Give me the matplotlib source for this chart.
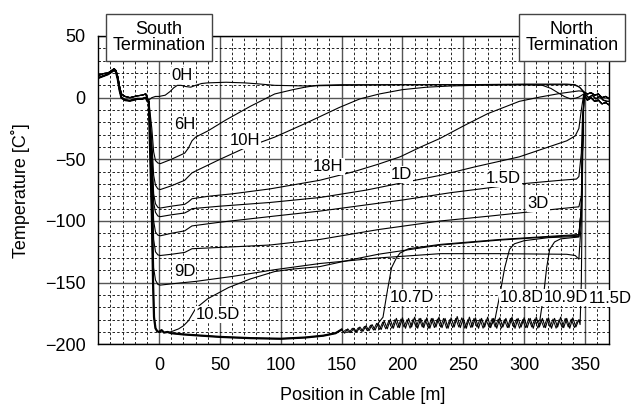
import numpy as np
import matplotlib
matplotlib.use('Agg')
import matplotlib.pyplot as plt
from matplotlib.patches import Rectangle
from matplotlib.ticker import MultipleLocator

plt.rcParams['font.family'] = ['Liberation Sans', 'DejaVu Sans']

# ---------------- data (position [m], temperature [C]) ----------------
LEFT_A = [(-50, 18), (-46, 19.5), (-42, 20), (-39, 22), (-37, 23.5), (-35.5, 22), (-34, 17),
          (-32.5, 9), (-31, 3), (-28, 1), (-24, 0), (-18, 1.5), (-14, 2), (-11, 3), (-9.5, -1)]
LEFT_B = [(-50, 16), (-46, 17.5), (-42, 19), (-39, 21), (-37, 22.5), (-35.5, 21), (-34, 15),
          (-32.5, 6), (-31, 0), (-28, -2), (-24, -2.5), (-18, -1), (-14, -1), (-11, 0), (-9.5, -3)]
RIGHT_A = [(350, 4), (352, 3), (355, 4), (358, 2), (361, 3), (364, 0), (367, 1), (370, -1)]
RIGHT_B = [(350, 1), (352, -2), (355, 0), (358, -3), (361, -2), (364, -5), (367, -4), (370, -6)]
RIGHT_C = [(350, 3), (353, 0), (356, 2), (359, -1), (362, 1), (365, -2), (368, -3), (370, -3)]

C_0H = [(-8.5, -2), (-6, 0), (-3, 1), (0, 1), (5, 2), (9, 5), (12, 8), (15, 10), (18, 10), (22, 9),
        (26, 8.5), (30, 10), (35, 11.5), (40, 12), (55, 12.5), (70, 12), (80, 11.3), (95, 10),
        (120, 9.5), (150, 10), (200, 10.5), (250, 10.5), (300, 11), (335, 11), (342, 10.5),
        (346, 8), (349, 4)]
C_6H = [(-8.5, -3), (-6, -25), (-4.5, -44), (-3, -51), (-1, -53), (1, -53.5), (10, -50), (21, -45),
        (24, -41), (27, -35), (30, -32), (40, -27), (55, -18), (75, -7), (95, 3), (110, 6.5),
        (120, 8.5), (130, 10), (150, 10.5), (200, 10.5), (250, 10.5), (300, 10.5), (315, 10),
        (322, 7.5), (327, 4.5), (333, 1), (338, -1), (342, -0.5), (345, 0.5), (349, 3)]
C_10H = [(-8.5, -3), (-6, -35), (-4.5, -63), (-3, -71), (-1, -74), (1, -74.5), (10, -71.5),
         (21, -67), (24, -64), (27, -61), (30, -59.5), (50, -50), (70, -41), (95, -32), (120, -21),
         (148, -8), (165, -1), (181, 3), (200, 6.5), (220, 8.5), (240, 9.5), (260, 10),
         (300, 10.5), (340, 10.5), (345, 9), (349, 5)]
C_18H = [(-8.5, -3), (-6, -45), (-4.5, -78), (-3, -86), (-1, -89), (1, -89.5), (10, -88),
         (21, -86.5), (24, -84.5), (27, -82), (40, -80), (60, -78), (91, -74), (132, -67),
         (160, -60), (180, -54), (198, -48), (215, -40), (231, -33), (250, -23), (270, -13),
         (296, -3), (313, 0.5), (330, 3.5), (345, 5.5), (349, 5)]
C_1D = [(-8.5, -3), (-6, -50), (-4.5, -85), (-3, -93), (-1, -96), (1, -96.5), (10, -95),
        (21, -93.5), (24, -92), (27, -90), (50, -88), (91, -85), (132, -81), (170, -75),
        (200, -69), (231, -63), (260, -56), (296, -48), (320, -40), (335, -35), (342, -31),
        (345, -25), (347, -10), (349, 3)]
C_15D = [(-8.5, -3), (-6, -58), (-4.5, -100), (-3, -109), (-1, -111.5), (1, -112), (10, -110),
         (21, -108), (24, -106), (27, -104), (50, -101), (95, -96), (132, -92), (200, -83),
         (240, -77), (296, -70), (330, -67), (343, -66), (345, -64), (347, -45), (348, -15),
         (350, 3)]
C_3D = [(-8.5, -3), (-6, -66), (-4.5, -115), (-3, -125), (-1, -127.5), (1, -128), (10, -127),
        (21, -125.5), (24, -124), (27, -122.5), (60, -121), (91, -119.5), (132, -115),
        (180, -107), (231, -100), (272, -96), (320, -91), (345, -88.5), (347, -80), (348, -40),
        (349, 0)]
C_9D = [(-8.5, -3), (-6, -78), (-4.5, -138), (-3, -148), (-1, -151.5), (1, -152), (10, -151),
        (30, -149), (60, -145), (95, -139.5), (132, -134.5), (180, -130), (231, -126.5),
        (280, -126.5), (335, -127), (342, -128), (345, -131), (347, -100), (348, -40), (349, 0)]
BOTTOM = [(-8.5, -3), (-6, -95), (-5, -150), (-4.2, -178), (-3, -187), (-1.5, -189.5), (0, -190),
          (2, -188.5), (4, -190.5), (7, -190), (10, -191), (20, -192), (35, -193), (50, -194),
          (75, -195), (100, -195.5), (120, -194.5), (135, -193), (145, -191), (150, -188)]
OSC_START = 150
OSC_STEP = 2.5
OSC_Y = [-188, -191, -187.5, -190.5, -187, -190, -186, -189.5, -185, -189, -184, -188.5, -183, -188,
         -181, -187.5, -180, -187, -179, -186.5, -178.5, -187, -179, -186, -178, -187, -179, -186.5,
         -178.5, -187, -179, -186, -178, -186.5, -179, -187, -178.5, -186, -177.5, -186.5, -179,
         -187, -178, -186, -178.5, -187, -179, -186, -178, -186.5, -179, -187, -178.5, -186, -179,
         -186.5, -178, -187, -179, -186, -178.5, -186.5, -179, -187, -178, -186, -179, -186.5,
         -178.5, -187, -179, -186, -178, -186.5, -179, -187, -178.5, -186, -180]
OSC2_START = 151.25
OSC2_Y = [-190, -188, -190.5, -187, -190, -186.5, -189.5, -185.5, -189, -184.5, -188.5, -183,
          -188, -182, -187.5, -181, -187, -180, -186.5, -179.5, -186, -180, -187, -179.5, -186.5,
          -179, -186, -180, -187, -179, -186.5, -179.5, -186, -179, -187, -180, -186.5, -179,
          -186, -178.5, -187, -180, -186.5, -179, -186, -179.5, -187, -180, -186.5, -179, -186,
          -179.5, -187, -180, -186.5, -179, -186, -179.5, -187, -180, -186.5, -179, -186, -179.5,
          -187, -180, -186.5, -179, -186, -179.5, -187, -180, -186.5, -179, -186, -179.5, -186.5,
          -181]
BOTTOM_END = [(346, -184), (347, -150), (348, -60), (349, 0)]
C_105D = [(8, -190.5), (12, -189), (16, -187.5), (20, -185), (24, -181), (27, -176), (30, -171),
          (40, -163), (57, -154), (75, -147), (95, -141), (110, -139), (132, -137), (160, -131),
          (180, -127), (231, -119.5), (280, -115.5), (320, -113), (345, -111.5), (347, -90),
          (348, -40), (349, 0)]
C_107D = [(180, -183), (184, -178), (187, -160), (191, -138), (195, -130), (198, -126),
          (205, -122.5), (231, -119), (280, -115), (320, -112.5), (345, -111), (347, -90),
          (348, -40), (349, 0)]
C_108D = [(273, -184), (276, -180), (280, -160), (284, -138), (288, -123), (292, -118.5),
          (300, -116), (320, -113.5), (345, -112.5), (347, -90), (348, -40), (349, 0)]
C_109D = [(310, -183), (313, -180), (316, -160), (318.5, -138), (321, -123), (325, -117),
          (330, -114.5), (345, -113), (347, -90), (348, -40), (349, 0)]

LABELS = ['0H', '6H', '10H', '18H', '1D', '1.5D', '3D', '9D', '10.5D', '10.7D', '10.8D', '10.9D', '11.5D']
LABEL_X = [18.4, 21, 70.5, 139, 199.3, 283, 311.6, 21.1, 48.5, 207.5, 298, 334, 370.5]
LABEL_Y = [18, -22, -34.5, -56, -62.7, -65.3, -85.5, -140.6, -176, -162.1, -162, -162, -162.7]

X_TICKS = [0, 50, 100, 150, 200, 250, 300, 350]
Y_TICKS = [-200, -150, -100, -50, 0, 50]

# ---------------- figure ----------------
W, H = 635, 405
fig = plt.figure(figsize=(W / 100, H / 100), dpi=100)
ax = fig.add_axes([98.3 / W, 1 - 344.3 / H, 511 / W, 308.3 / H])
ax.set_xlim(-50, 370)
ax.set_ylim(-200, 50)

ax.xaxis.set_minor_locator(MultipleLocator(10))
ax.yaxis.set_minor_locator(MultipleLocator(10))
ax.set_xticks(X_TICKS)
ax.set_yticks(Y_TICKS)
ax.grid(which='minor', color='black', linestyle=(0, (3, 2.6)), linewidth=0.6)
ax.grid(which='major', color='#555555', linestyle='-', linewidth=1.0)
ax.set_axisbelow(True)
ax.tick_params(which='both', length=0)
ax.tick_params(axis='x', pad=9, labelsize=13)
ax.tick_params(axis='y', pad=9, labelsize=13)
for s in ax.spines.values():
    s.set_color('black')
    s.set_linewidth(1.0)


def draw(pts, lw=0.8, **kw):
    a = np.array(pts, dtype=float)
    ax.plot(a[:, 0], a[:, 1], color='black', lw=lw, solid_joinstyle='round', **kw)


curves = [C_0H, C_6H, C_10H, C_18H, C_1D, C_15D, C_3D, C_9D]
lefts = [LEFT_A, LEFT_B]
rights = [RIGHT_A, RIGHT_B, RIGHT_C]
for i, c in enumerate(curves):
    draw(lefts[i % 2] + c + rights[i % 3])

osc_pts = list(zip(OSC_START + OSC_STEP * np.arange(len(OSC_Y)), OSC_Y))
osc2_pts = list(zip(OSC2_START + OSC_STEP * np.arange(len(OSC2_Y)), OSC2_Y))
draw(LEFT_A + BOTTOM + osc_pts + BOTTOM_END + RIGHT_B)
draw(LEFT_B + BOTTOM, lw=1.6)
draw(osc2_pts, lw=0.7)
for c, r in zip([C_105D, C_107D, C_108D, C_109D], [RIGHT_A, RIGHT_C, RIGHT_B, RIGHT_A]):
    draw(c + r)

for t, x, y in zip(LABELS, LABEL_X, LABEL_Y):
    ax.text(x, y, t, fontsize=12, ha='center', va='center', zorder=5, clip_on=False,
            bbox=dict(boxstyle='square,pad=0.06', fc='white', ec='none'))

ax.yaxis.set_label_coords(-0.134, 0.513)
ax.set_ylabel('Temperature [C˚]', fontsize=13)
ax.text(0.517, -0.165, 'Position in Cable [m]', transform=ax.transAxes, fontsize=13,
        ha='center', va='center')

for (x0, txt) in [(106, 'South\nTermination'), (519, 'North\nTermination')]:
    fig.patches.append(Rectangle((x0 / W, 1 - 61 / H), 106 / W, 47 / H, transform=fig.transFigure,
                                 fc='white', ec='#444444', lw=1.0, zorder=10))
    fig.text((x0 + 53) / W, 1 - 37.5 / H, txt, ha='center', va='center', fontsize=13,
             linespacing=0.95, zorder=11)

fig.savefig('out.png', dpi=100)
